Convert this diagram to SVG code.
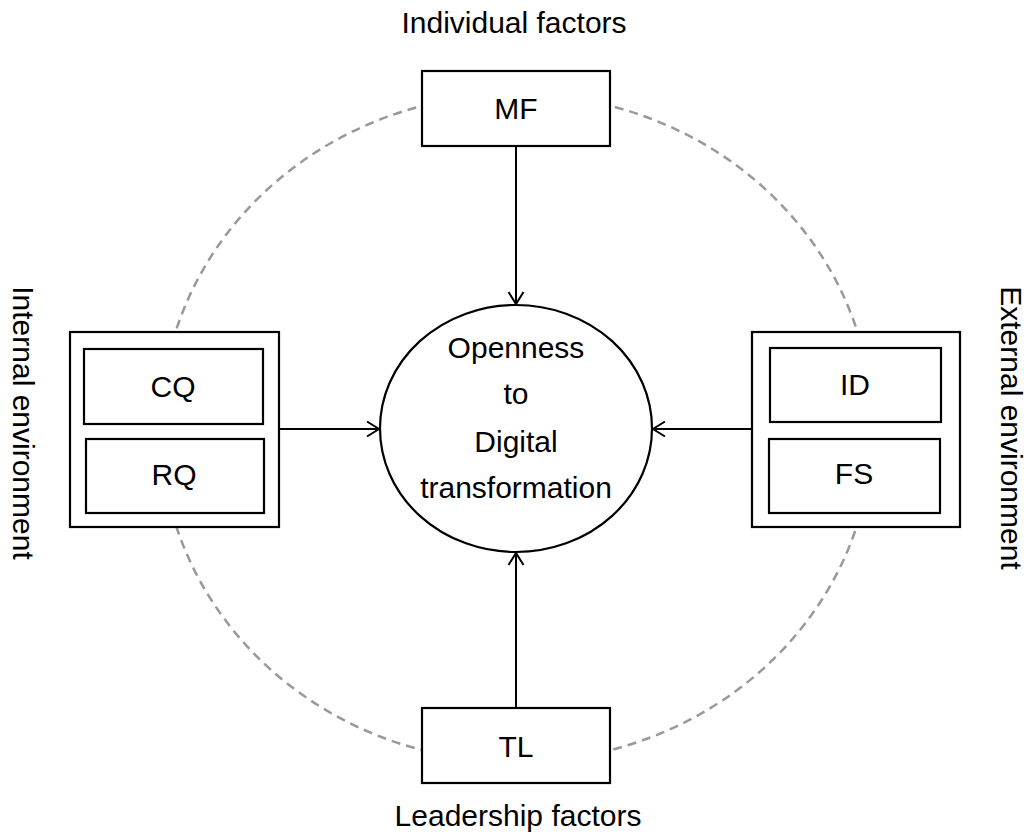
<svg xmlns="http://www.w3.org/2000/svg" width="1027" height="832" viewBox="0 0 1027 832">
  <style>
    .box { fill: #ffffff; stroke: #000000; stroke-width: 2.2; }
    .ring { fill: none; stroke: #999999; stroke-width: 2.5; stroke-dasharray: 9 6; }
    .edge { fill: none; stroke: #000000; stroke-width: 2; marker-end: url(#arrow); }
    .lbl { font-family: "Liberation Sans", Arial, Helvetica, sans-serif; font-size: 30px; fill: #000000; text-anchor: middle; }
  </style>
  <defs>
    <marker id="arrow" viewBox="0 0 18 18" refX="15" refY="9" markerWidth="18" markerHeight="18" markerUnits="userSpaceOnUse" orient="auto">
      <path d="M3,1.5 L15,9 L3,16.5" fill="none" stroke="#000000" stroke-width="2"/>
    </marker>
  </defs>
  <rect width="1027" height="832" fill="#ffffff"/>

  <!-- dashed ring linking the four factor groups -->
  <ellipse class="ring" cx="516.5" cy="428" rx="356" ry="334"/>

  <!-- connectors -->
  <g id="connectors">
    <line class="edge" x1="516" y1="146" x2="516" y2="304"/>
    <line class="edge" x1="516" y1="708" x2="516" y2="553"/>
    <line class="edge" x1="279" y1="429" x2="379" y2="429"/>
    <line class="edge" x1="752" y1="429" x2="653" y2="429"/>
  </g>

  <!-- central outcome -->
  <g id="openness">
    <ellipse class="box" cx="516" cy="428.5" rx="136" ry="123.5"/>
    <text class="lbl" x="516" y="358">Openness</text>
    <text class="lbl" x="516" y="404">to</text>
    <text class="lbl" x="516" y="452">Digital</text>
    <text class="lbl" x="516" y="498">transformation</text>
  </g>

  <!-- individual factors -->
  <g id="individual">
    <text class="lbl" x="514" y="33">Individual factors</text>
    <rect class="box" x="422" y="71" width="188" height="75"/>
    <text class="lbl" x="516" y="119">MF</text>
  </g>

  <!-- leadership factors -->
  <g id="leadership">
    <rect class="box" x="422" y="708" width="188" height="75"/>
    <text class="lbl" x="516" y="757">TL</text>
    <text class="lbl" x="518" y="826">Leadership factors</text>
  </g>

  <!-- internal environment -->
  <g id="internal">
    <text class="lbl" transform="translate(13,423) rotate(90)">Internal environment</text>
    <rect class="box" x="70" y="332" width="209" height="195"/>
    <rect class="box" x="84" y="349" width="179" height="75"/>
    <text class="lbl" x="173" y="397">CQ</text>
    <rect class="box" x="86" y="439" width="178" height="74"/>
    <text class="lbl" x="174" y="485">RQ</text>
  </g>

  <!-- external environment -->
  <g id="external">
    <rect class="box" x="752" y="332" width="208" height="195"/>
    <rect class="box" x="770" y="348" width="171" height="74"/>
    <text class="lbl" x="855" y="395">ID</text>
    <rect class="box" x="769" y="439" width="171" height="74"/>
    <text class="lbl" x="854" y="484">FS</text>
    <text class="lbl" transform="translate(1001,428) rotate(90)">External environment</text>
  </g>
</svg>
